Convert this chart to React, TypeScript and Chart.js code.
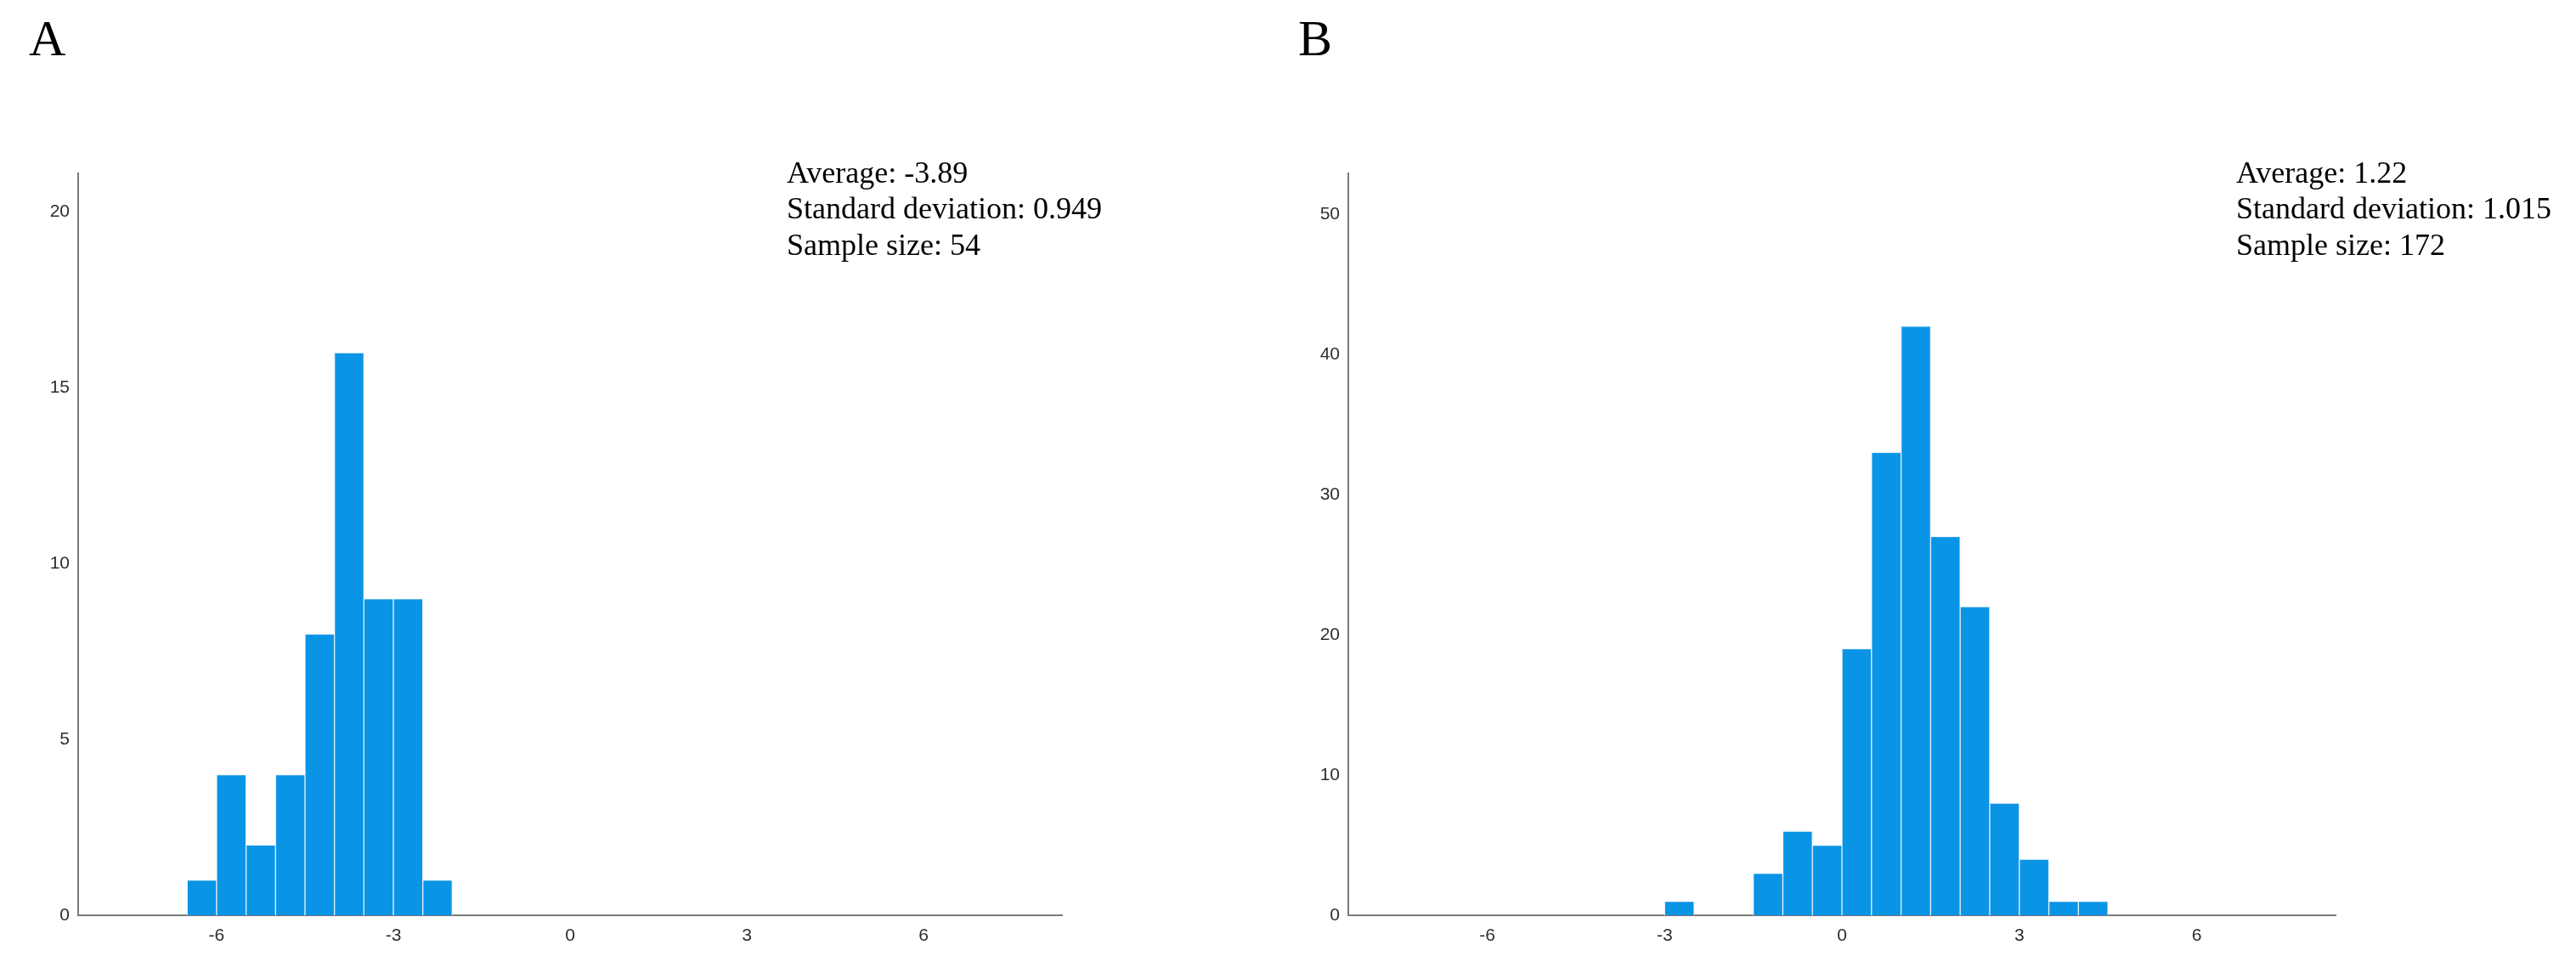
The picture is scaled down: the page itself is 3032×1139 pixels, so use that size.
import React, { useEffect, useRef } from 'react';
import { Chart, registerables } from 'chart.js';

Chart.register(...registerables);

// ---- data ----
const binWidth = 0.5;
const binStartsA = [-6.5, -6, -5.5, -5, -4.5, -4, -3.5, -3, -2.5];
const countsA = [1, 4, 2, 4, 8, 16, 9, 9, 1];
const binStartsB = [-3, -1.5, -1, -0.5, 0, 0.5, 1, 1.5, 2, 2.5, 3, 3.5, 4];
const countsB = [1, 3, 6, 5, 19, 33, 42, 27, 22, 8, 4, 1, 1];
const xTicks = [-6, -3, 0, 3, 6];
const yTicksA = [0, 5, 10, 15, 20];
const yTicksB = [0, 10, 20, 30, 40, 50];
const xMin = -8.35;
const xMax = 8.35;
const yMaxA = 21.1;
const yMaxB = 52.9;
const statsA = ['Average: -3.89', 'Standard deviation: 0.949', 'Sample size: 54'];
const statsB = ['Average: 1.22', 'Standard deviation: 1.015', 'Sample size: 172'];
const panelLabels = ['A', 'B'];

const H = 1139;
const PLOT_TOP = 204;
const PLOT_BOTTOM = 1077;
const BAR_COLOR = '#0a94e6';
const AXIS_COLOR = '#7a7a7a';
const TICK_COLOR = '#2e2e2e';
const SANS = '"Liberation Sans", Arial, sans-serif';
const SERIF = '"Liberation Serif", "Times New Roman", serif';

type PanelProps = {
  left: number;
  width: number;
  yAxisWidth: number;
  plotRight: number;
  starts: number[];
  counts: number[];
  yTicks: number[];
  yMax: number;
};

function HistPanel(p: PanelProps) {
  const ref = useRef<HTMLCanvasElement | null>(null);
  useEffect(() => {
    if (!ref.current) return;
    const data = p.starts.map((s, i) => ({ x: s + binWidth / 2, y: p.counts[i] }));
    const chart = new Chart(ref.current, {
      type: 'bar',
      data: {
        datasets: [
          {
            data: data as any,
            backgroundColor: BAR_COLOR,
            borderColor: 'rgba(225,240,252,0.95)',
            borderWidth: 1,
            borderSkipped: 'bottom',
            barPercentage: 1,
            categoryPercentage: 1,
          },
        ],
      },
      options: {
        animation: false,
        responsive: false,
        devicePixelRatio: 1,
        layout: {
          padding: { left: 0, top: PLOT_TOP, right: p.width - p.plotRight, bottom: 0 },
        },
        plugins: { legend: { display: false }, tooltip: { enabled: false }, title: { display: false } },
        scales: {
          x: {
            type: 'linear',
            min: xMin,
            max: xMax,
            offset: false,
            grid: { display: false, drawTicks: false },
            border: { display: true, color: AXIS_COLOR, width: 2 },
            afterBuildTicks: (scale: any) => {
              scale.ticks = xTicks.map((v) => ({ value: v }));
            },
            afterFit: (scale: any) => {
              scale.height = H - PLOT_BOTTOM;
            },
            ticks: {
              autoSkip: false,
              maxRotation: 0,
              padding: 12,
              color: TICK_COLOR,
              font: { family: SANS, size: 21 },
            },
          },
          y: {
            type: 'linear',
            min: 0,
            max: p.yMax,
            grid: { display: false, drawTicks: false },
            border: { display: true, color: AXIS_COLOR, width: 2 },
            afterBuildTicks: (scale: any) => {
              scale.ticks = p.yTicks.map((v) => ({ value: v }));
            },
            afterFit: (scale: any) => {
              scale.width = p.yAxisWidth;
            },
            ticks: {
              padding: 10,
              color: TICK_COLOR,
              font: { family: SANS, size: 21 },
            },
          },
        },
      } as any,
    });
    return () => chart.destroy();
  }, []);
  return (
    <canvas
      ref={ref}
      width={p.width}
      height={H}
      style={{ position: 'absolute', left: p.left, top: 0, width: p.width, height: H }}
    />
  );
}

function Stats({ left, lines }: { left: number; lines: string[] }) {
  return (
    <div
      style={{
        position: 'absolute',
        left,
        top: 181.6,
        fontFamily: SERIF,
        fontSize: 36,
        lineHeight: '42.5px',
        color: '#000',
        whiteSpace: 'nowrap',
      }}
    >
      {lines.map((l, i) => (
        <div key={i}>{l}</div>
      ))}
    </div>
  );
}

function PanelLetter({ left, text }: { left: number; text: string }) {
  return (
    <div
      style={{
        position: 'absolute',
        left,
        top: 14.7,
        fontFamily: SERIF,
        fontSize: 60,
        lineHeight: '60px',
        color: '#000',
      }}
    >
      {text}
    </div>
  );
}

export default function App() {
  return (
    <div
      style={{
        position: 'absolute',
        left: 0,
        top: 0,
        width: 3032,
        height: H,
        background: '#fff',
        overflow: 'hidden',
      }}
    >
      <HistPanel
        left={0}
        width={1500}
        yAxisWidth={92}
        plotRight={1250}
        starts={binStartsA}
        counts={countsA}
        yTicks={yTicksA}
        yMax={yMaxA}
      />
      <HistPanel
        left={1500}
        width={1532}
        yAxisWidth={87}
        plotRight={1249}
        starts={binStartsB}
        counts={countsB}
        yTicks={yTicksB}
        yMax={yMaxB}
      />
      <PanelLetter left={34} text={panelLabels[0]} />
      <PanelLetter left={1528} text={panelLabels[1]} />
      <Stats left={926} lines={statsA} />
      <Stats left={2632} lines={statsB} />
    </div>
  );
}
